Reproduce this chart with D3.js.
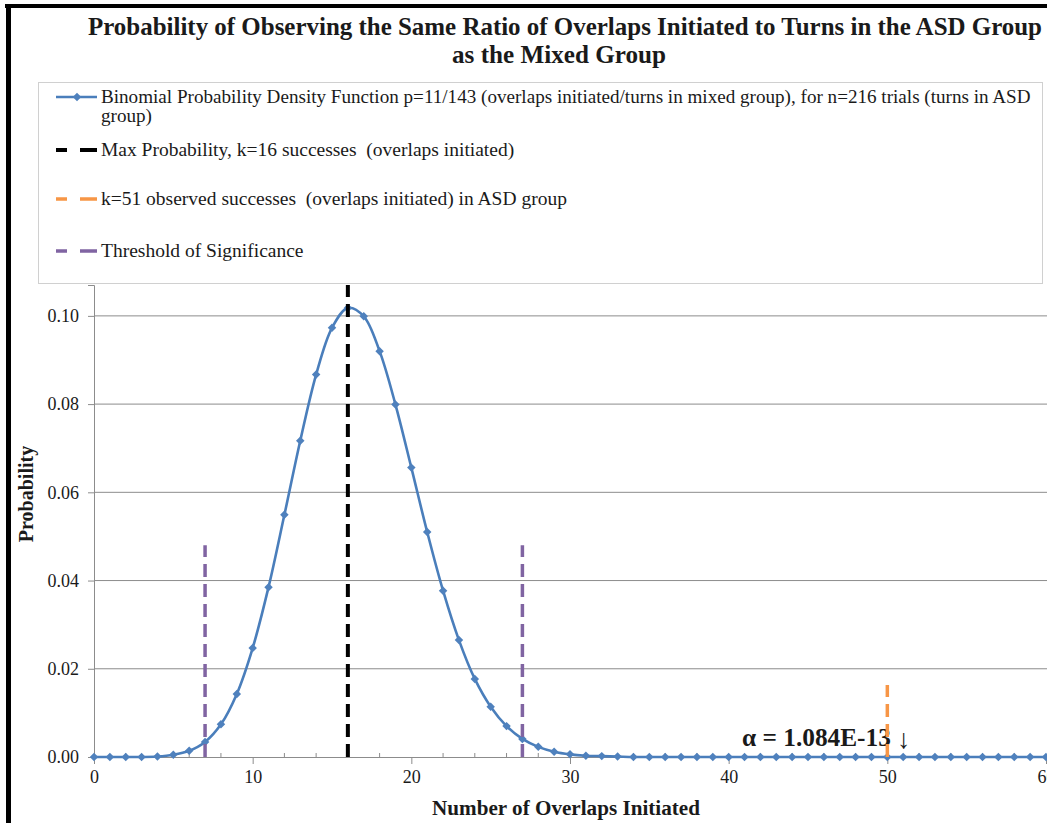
<!DOCTYPE html>
<html>
<head>
<meta charset="utf-8">
<script src="https://cdn.jsdelivr.net/npm/d3@7/dist/d3.min.js"></script>
<style>
  html, body { margin: 0; padding: 0; background: #fff; }
  svg { display: block; }
  text { font-family: "Liberation Serif", "Times New Roman", serif; fill: #1a1a1a; }
</style>
</head>
<body>
<svg id="chart" width="1047" height="823"></svg>
<script>
// Number of successes k (overlaps initiated) on the horizontal axis
const successes = [
  0, 1, 2, 3, 4, 5, 6, 7, 8, 9,
  10, 11, 12, 13, 14, 15, 16, 17, 18, 19,
  20, 21, 22, 23, 24, 25, 26, 27, 28, 29,
  30, 31, 32, 33, 34, 35, 36, 37, 38, 39,
  40, 41, 42, 43, 44, 45, 46, 47, 48, 49,
  50, 51, 52, 53, 54, 55, 56, 57, 58, 59, 60
];
// Binomial probability for each k (p = 11/143, n = 216)
const probability = [
  0.0000, 0.0000, 0.0000, 0.0000, 0.0001, 0.0005, 0.0014, 0.0034, 0.0074, 0.0143,
  0.0247, 0.0385, 0.0549, 0.0717, 0.0867, 0.0973, 0.1018, 0.0999, 0.0920, 0.0799,
  0.0656, 0.0510, 0.0377, 0.0265, 0.0177, 0.0114, 0.0070, 0.0041, 0.0023, 0.0012,
  0.0006, 0.0003, 0.0002, 0.0001, 0.0000, 0.0000, 0.0000, 0.0000, 0.0000, 0.0000,
  0.0000, 0.0000, 0.0000, 0.0000, 0.0000, 0.0000, 0.0000, 0.0000, 0.0000, 0.0000,
  0.0000, 0.0000, 0.0000, 0.0000, 0.0000, 0.0000, 0.0000, 0.0000, 0.0000, 0.0000, 0.0000
];
// Reference lines: k position and the height each is drawn up to
const maxProbLine = { k: 16, top: 0.107 };
const observedLine = { k: 50, top: 0.0163 };
const thresholdLines = [ { k: 7, top: 0.048 }, { k: 27, top: 0.048 } ];

const yTicks = [0, 0.02, 0.04, 0.06, 0.08, 0.10];
const xTicks = [0, 10, 20, 30, 40, 50, 60];
const xMinorTicks = [2, 4, 6, 8, 12, 14, 16, 18, 22, 24, 26, 28, 32, 34, 36, 38, 42, 44, 46, 48, 52, 54, 56, 58];

const titleLines = [
  "Probability of Observing the Same Ratio of Overlaps Initiated to Turns in the ASD Group",
  "as the Mixed Group"
];
const xTitle = "Number of Overlaps Initiated";
const yTitle = "Probability";
const legendItems = [
  { lines: ["Binomial Probability Density Function p=11/143 (overlaps initiated/turns in mixed group), for n=216 trials (turns in ASD", "group)"], kind: "series" },
  { lines: ["Max Probability, k=16 successes\u00A0 (overlaps initiated)"], kind: "max" },
  { lines: ["k=51 observed successes\u00A0 (overlaps initiated) in ASD group"], kind: "observed" },
  { lines: ["Threshold of Significance"], kind: "threshold" }
];
const alphaLabel = "\u03B1 = 1.084E-13";

const colors = {
  series: "#4A7EBB", marker: "#4F81BD", max: "#000000",
  observed: "#F79646", threshold: "#8064A2", grid: "#8c8c8c"
};
const serif = "Liberation Serif";

const svg = d3.select("#chart");

// scales
const x = d3.scaleLinear().domain([0, 60]).range([94, 1046]);
const y = d3.scaleLinear().domain([0, 0.107]).range([757, 285]);

// gridlines
svg.append("g").selectAll("line").data(yTicks.slice(1)).join("line")
  .attr("x1", x(0)).attr("x2", 1047)
  .attr("y1", d => y(d)).attr("y2", d => y(d))
  .attr("stroke", colors.grid).attr("stroke-width", 1);

// y axis
const yAxis = svg.append("g").attr("transform", `translate(${x(0)},0)`)
  .call(d3.axisLeft(y).tickValues(yTicks).tickFormat(d3.format(".2f")).tickSize(6).tickPadding(9));
yAxis.select(".domain").attr("stroke", colors.grid);
yAxis.selectAll(".tick line").attr("stroke", colors.grid);
yAxis.selectAll(".tick text").attr("font-size", 18).attr("font-family", serif).attr("fill", "#333");

// x axis: major ticks outside, minor ticks inside
const xAxis = svg.append("g").attr("transform", `translate(0,${y(0)})`)
  .call(d3.axisBottom(x).tickValues(xTicks).tickFormat(d3.format("d")).tickSize(7).tickPadding(6));
xAxis.select(".domain").attr("stroke", colors.grid);
xAxis.selectAll(".tick line").attr("stroke", colors.grid);
xAxis.selectAll(".tick text").attr("font-size", 18).attr("font-family", serif).attr("fill", "#333");
svg.append("g").selectAll("line").data(xMinorTicks).join("line")
  .attr("x1", d => x(d)).attr("x2", d => x(d))
  .attr("y1", y(0)).attr("y2", y(0) - 4)
  .attr("stroke", colors.grid);

// series line (smoothed) and diamond markers
const pts = successes.map((k, i) => [k, probability[i]]);
const line = d3.line().x(d => x(d[0])).y(d => y(d[1])).curve(d3.curveCatmullRom.alpha(0.5));
svg.append("path").attr("d", line(pts))
  .attr("fill", "none").attr("stroke", colors.series).attr("stroke-width", 2.6);

const diamond = d3.symbol().type(d3.symbolSquare).size(36);
svg.append("g").selectAll("path").data(pts).join("path")
  .attr("d", diamond)
  .attr("transform", d => `translate(${x(d[0])},${y(d[1])}) rotate(45)`)
  .attr("fill", colors.marker);

// dashed reference lines
function vline(spec, color, width) {
  svg.append("line")
    .attr("x1", x(spec.k)).attr("x2", x(spec.k))
    .attr("y1", y(0)).attr("y2", y(spec.top))
    .attr("stroke", color).attr("stroke-width", width)
    .attr("stroke-dasharray", "13,7");
}
thresholdLines.forEach(t => vline(t, colors.threshold, 3.5));
vline(maxProbLine, colors.max, 4);

// fit helper: scale a text's font size so it spans a target width
function fitWidth(sel, width) {
  const w = sel.node().getComputedTextLength();
  const fs = parseFloat(sel.attr("font-size"));
  sel.attr("font-size", fs * width / w);
}

// alpha annotation next to the observed count
const alphaText = svg.append("text")
  .attr("x", 742).attr("y", 746).attr("font-family", serif)
  .attr("font-size", 21).attr("font-weight", "bold").text(alphaLabel);
fitWidth(alphaText, 149);
svg.append("text").attr("x", 897).attr("y", 748).attr("font-family", serif)
  .attr("font-size", 27).text("\u2193");
vline(observedLine, colors.observed, 3.5);

// legend
const lg = svg.append("g");
lg.append("rect").attr("x", 38.5).attr("y", 82.5).attr("width", 1004).attr("height", 201)
  .attr("fill", "#fff").attr("stroke", "#d0d0d0").attr("stroke-width", 1);
const rowY = [97, 150, 199, 251];
const legendFont = 19.5;
legendItems.forEach((item, i) => {
  const cy = rowY[i];
  if (item.kind === "series") {
    lg.append("line").attr("x1", 56).attr("x2", 97).attr("y1", cy).attr("y2", cy)
      .attr("stroke", colors.series).attr("stroke-width", 2.6);
    lg.append("path").attr("d", diamond)
      .attr("transform", `translate(77,${cy}) rotate(45)`).attr("fill", colors.marker);
  } else {
    lg.append("line").attr("x1", 56).attr("x2", 97).attr("y1", cy).attr("y2", cy)
      .attr("stroke", colors[item.kind]).attr("stroke-width", item.kind === "max" ? 4 : 3.5)
      .attr("stroke-dasharray", "11,13,17");
  }
  const texts = item.lines.map((t, j) => lg.append("text")
    .attr("x", 101).attr("y", cy + 6 + j * 19)
    .attr("font-family", serif).attr("font-size", legendFont).text(t));
  // the long wrapped entry is sized to the legend's inner width
  if (i === 0) {
    fitWidth(texts[0], 930);
    texts.forEach(tx => tx.attr("font-size", texts[0].attr("font-size")));
  }
});

// titles
svg.append("text").attr("x", 565).attr("y", 35).attr("text-anchor", "middle")
  .attr("font-family", serif).attr("font-size", 25).attr("font-weight", "bold")
  .attr("textLength", 954).attr("lengthAdjust", "spacingAndGlyphs").text(titleLines[0]);
svg.append("text").attr("x", 559).attr("y", 63).attr("text-anchor", "middle")
  .attr("font-family", serif).attr("font-size", 25).attr("font-weight", "bold")
  .attr("textLength", 214).attr("lengthAdjust", "spacingAndGlyphs").text(titleLines[1]);

const xt = svg.append("text").attr("x", 566).attr("y", 815).attr("text-anchor", "middle")
  .attr("font-family", serif).attr("font-size", 20).attr("font-weight", "bold").text(xTitle);
fitWidth(xt, 268);
svg.append("text").attr("transform", "translate(33,494) rotate(-90)")
  .attr("text-anchor", "middle").attr("font-family", serif)
  .attr("font-size", 20).attr("font-weight", "bold").text(yTitle);

// frame edges
svg.append("rect").attr("x", 5).attr("y", 4).attr("width", 1042).attr("height", 4).attr("fill", "#000");
svg.append("rect").attr("x", 6).attr("y", 4).attr("width", 5).attr("height", 819).attr("fill", "#000");
</script>
</body>
</html>
